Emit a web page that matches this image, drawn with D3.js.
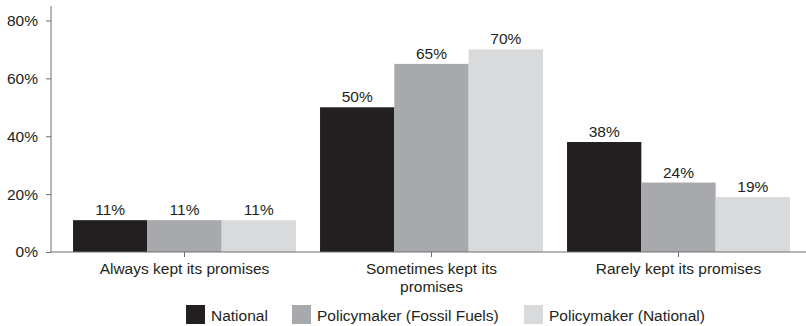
<!DOCTYPE html>
<html>
<head>
<meta charset="utf-8">
<script src="https://cdn.jsdelivr.net/npm/d3@7"></script>
<style>
  html, body { margin: 0; padding: 0; background: #fff; }
  svg { display: block; font-family: "Liberation Sans", Arial, Helvetica, sans-serif; }
</style>
</head>
<body>
<svg id="chart" width="806" height="326"></svg>
<script>
// Survey responses: how often the government kept its promises
const categories = ["Always kept its promises", "Sometimes kept its promises", "Rarely kept its promises"];
const seriesNames = ["National", "Policymaker (Fossil Fuels)", "Policymaker (National)"];
const national = [11, 50, 38];
const policymakerFossil = [11, 65, 24];
const policymakerNational = [11, 70, 19];
const yTicks = [0, 20, 40, 60, 80];

const seriesValues = [national, policymakerFossil, policymakerNational];
const colors = ["#231f20", "#a7a9ac", "#d9dadc"];
const textColor = "#231f20";
const axisColor = "#6d6e71";
const fontSize = 15.5;

const svg = d3.select("#chart");

const axisX0 = 51, axisRight = 806, y0 = 252;

const x = d3.scaleBand().domain(categories).range([61, 802]).paddingInner(0).paddingOuter(0);
const xSub = d3.scaleBand().domain(seriesNames).range([0, x.bandwidth()]).paddingInner(0).paddingOuter(0.162);
const y = d3.scaleLinear().domain([0, 85]).range([y0, 6]);

// Y axis
const yAxis = d3.axisLeft(y).tickValues(yTicks).tickSize(5).tickPadding(8).tickFormat(d => d + "%");
const gy = svg.append("g").attr("transform", `translate(${axisX0},0)`).call(yAxis);
gy.select(".domain").attr("stroke", axisColor).attr("d", `M0,${y0}V${y(85)}`);
gy.selectAll(".tick line").attr("stroke", axisColor);
gy.selectAll(".tick text").attr("fill", textColor).attr("font-size", fontSize).attr("font-family", "Liberation Sans, Arial, sans-serif");

// Bars
const groups = svg.append("g").selectAll("g")
  .data(categories)
  .join("g")
  .attr("transform", d => `translate(${x(d)},0)`);

groups.selectAll("rect")
  .data((c, i) => seriesNames.map((s, k) => ({ s, v: seriesValues[k][i], k })))
  .join("rect")
  .attr("x", d => xSub(d.s))
  .attr("width", xSub.bandwidth())
  .attr("y", d => y(d.v))
  .attr("height", d => y0 - y(d.v))
  .attr("fill", d => colors[d.k]);

groups.selectAll("text.value")
  .data((c, i) => seriesNames.map((s, k) => ({ s, v: seriesValues[k][i], k })))
  .join("text")
  .attr("class", "value")
  .attr("x", d => xSub(d.s) + xSub.bandwidth() / 2)
  .attr("y", d => y(d.v) - 5)
  .attr("text-anchor", "middle")
  .attr("font-size", fontSize)
  .attr("fill", textColor)
  .text(d => d.v + "%");

// X axis
const xAxis = d3.axisBottom(x).tickSize(5).tickSizeOuter(0).tickPadding(6).tickFormat("");
const gx = svg.append("g").attr("transform", `translate(0,${y0})`).call(xAxis);
gx.select(".domain").attr("stroke", axisColor).attr("d", `M${axisX0},0H${axisRight}`);
gx.selectAll(".tick line").attr("stroke", axisColor);

// Category labels, wrapped to fit the band
const wrapped = {
  "Always kept its promises": ["Always kept its promises"],
  "Sometimes kept its promises": ["Sometimes kept its", "promises"],
  "Rarely kept its promises": ["Rarely kept its promises"]
};
categories.forEach(c => {
  const t = svg.append("text")
    .attr("x", x(c) + x.bandwidth() / 2)
    .attr("y", 274)
    .attr("text-anchor", "middle")
    .attr("font-size", fontSize)
    .attr("fill", textColor);
  wrapped[c].forEach((line, i) => {
    t.append("tspan").attr("x", x(c) + x.bandwidth() / 2).attr("dy", i === 0 ? 0 : 18).text(line);
  });
});

// Legend
const legendX = [186, 292, 524];
const legend = svg.append("g");
seriesNames.forEach((s, k) => {
  legend.append("rect")
    .attr("x", legendX[k]).attr("y", 305)
    .attr("width", 19).attr("height", 19)
    .attr("fill", colors[k]);
  legend.append("text")
    .attr("x", legendX[k] + 25).attr("y", 320.5)
    .attr("font-size", fontSize)
    .attr("fill", textColor)
    .text(s);
});
</script>
</body>
</html>
